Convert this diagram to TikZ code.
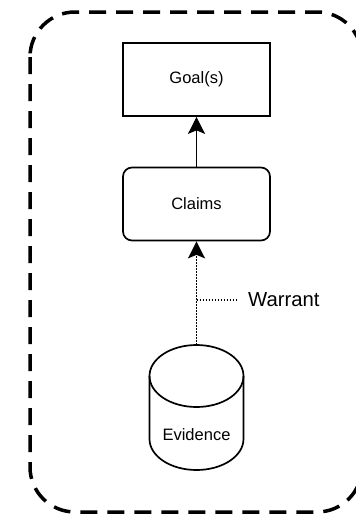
\documentclass[tikz,border=0pt]{standalone}
\usepackage{fontspec}
\setmainfont{Liberation Sans}
\usetikzlibrary{arrows.meta}
\tikzset{
  frame/.style={line width=3.5pt, dash pattern=on 17pt off 10pt, rounded corners=45pt},
  goalbox/.style={draw, line width=1.7pt, minimum width=147pt, minimum height=73pt, inner sep=0pt, font=\fontsize{16.5}{19}\selectfont},
  claimbox/.style={goalbox, rounded corners=9pt},
  evshape/.style={minimum width=94pt, minimum height=125pt, inner sep=0pt},
  txt/.style={inner sep=0pt, font=\fontsize{16.5}{19}\selectfont},
  bigtxt/.style={inner sep=0pt, font=\fontsize{20.3}{24}\selectfont},
  link/.style={line width=1.6pt, -{Stealth[length=17pt, width=17pt, inset=3.5pt]}},
  dots/.style={line width=1.5pt, dash pattern=on 1.5pt off 1.5pt}
}
\begin{document}
\begin{tikzpicture}[x=1pt, y=-1pt]
\clip (0,0) rectangle (356,515);
\fill[white] (0,0) rectangle (356,515);

% outer dashed frame
\draw[frame] (30,12) rectangle (362,512);

% boxes
\node[goalbox] (goal) at (196.5,79.5) {Goal(s)};
\node[claimbox] (claims) at (196.5,204) {Claims};

% evidence store drawn as a cylinder
\node[evshape] (ev) at (196.5,407.5) {};
\draw[line width=1.7pt] (149.5,376) -- (149.5,439)
  arc[start angle=180, end angle=360, x radius=47pt, y radius=31pt]
  -- (243.5,376);
\draw[line width=1.7pt] (196.5,376) ellipse[x radius=47pt, y radius=31pt];
\node[txt] (evlabel) at (196.5,435) {Evidence};

% connectors
\draw[link] (claims.north) -- (goal.south);
\draw[link, dots] (ev.north) -- (claims.south);

% warrant annotation
\coordinate (wj) at (196.5,300);
\node[bigtxt, anchor=west] (warrant) at (248,300) {Warrant};
\draw[dots] (wj) -- (warrant.west) [shorten >=12pt];
\end{tikzpicture}
\end{document}
